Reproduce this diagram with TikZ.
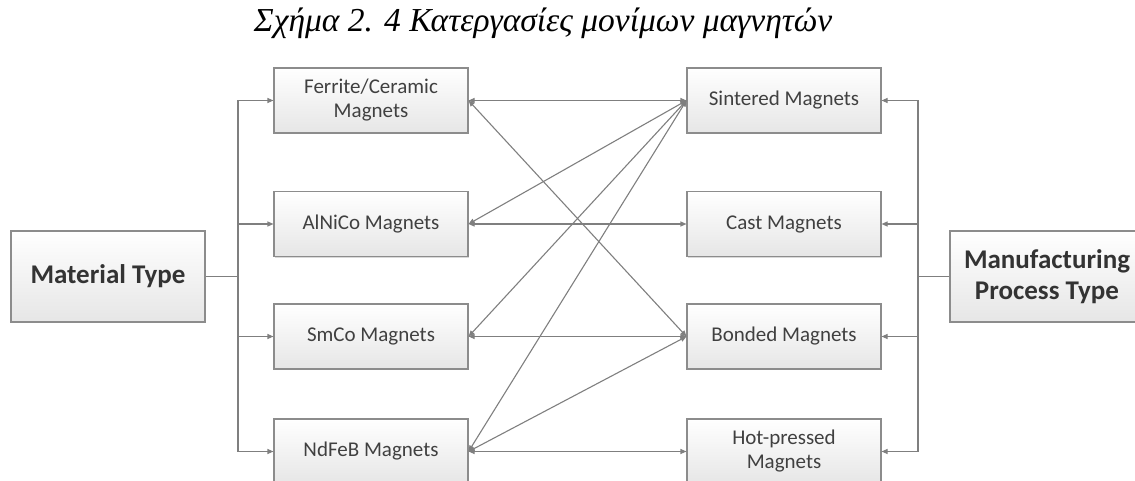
\documentclass[tikz,border=0pt]{standalone}
\usepackage{fontspec}
\setmainfont{Carlito}
\newfontfamily\titlefont{Liberation Serif}
\usetikzlibrary{arrows.meta,shadows}
\definecolor{boxline}{HTML}{8C8C8C}
\definecolor{linecol}{HTML}{7F7F7F}
\definecolor{txtcol}{HTML}{404040}
\definecolor{fillbot}{HTML}{E6E6E6}
\begin{document}
\begin{tikzpicture}[x=1pt,y=-1pt,
  mbox/.style={draw=boxline,line width=1.1pt,top color=white,bottom color=fillbot,
    minimum width=194pt,minimum height=65pt,align=center,text=txtcol,
    font=\fontsize{21}{24}\selectfont,inner sep=0pt,
    drop shadow={shadow xshift=1.2pt,shadow yshift=-1.2pt,fill=black!25,opacity=0.6}},
  bigbox/.style={mbox,minimum height=91pt,text=black!80,font=\bfseries\fontsize{27}{31}\selectfont},
  conn/.style={draw=linecol,line width=1.1pt},
  arr/.style={conn,-{Triangle[length=6pt,width=5pt]}},
  darr/.style={conn,{Triangle[length=6pt,width=5pt]}-{Triangle[length=6pt,width=5pt]}}
]
\useasboundingbox (0,0) rectangle (1135,481);
\clip (0,0) rectangle (1135,481);
\node[font=\titlefont\itshape\fontsize{33.5}{38}\selectfont] (title) at (543,23) {Σχήμα 2. 4 Κατεργασίες μονίμων μαγνητών};

\node[bigbox] (mat) at (108,276.5) {Material Type};
\node[bigbox] (man) at (1047,276.5) {Manufacturing\\Process Type};

\node[mbox] (fer) at (371,100.5) {Ferrite/Ceramic\\Magnets};
\node[mbox] (aln) at (371,224) {AlNiCo Magnets};
\node[mbox] (smc) at (371,336.5) {SmCo Magnets};
\node[mbox] (ndf) at (371,451.5) {NdFeB Magnets};

\node[mbox] (sin) at (784,100.5) {Sintered Magnets};
\node[mbox] (cas) at (784,224) {Cast Magnets};
\node[mbox] (bon) at (784,336.5) {Bonded Magnets};
\node[mbox] (hot) at (784,451.5) {Hot-pressed\\Magnets};

% left bus
\coordinate (lb) at (238,276.5);
\draw[conn] (mat.east) -- (lb);
\draw[arr] (lb) |- (fer.west);
\draw[arr] (lb) |- (aln.west);
\draw[arr] (lb) |- (smc.west);
\draw[arr] (lb) |- (ndf.west);

% right bus
\coordinate (rb) at (918,276.5);
\draw[conn] (man.west) -- (rb);
\draw[arr] (rb) |- (sin.east);
\draw[arr] (rb) |- (cas.east);
\draw[arr] (rb) |- (bon.east);
\draw[arr] (rb) |- (hot.east);

% cross links
\draw[darr] (fer.east) -- (sin.west);
\draw[darr] (fer.east) -- (bon.west);
\draw[darr] (aln.east) -- (sin.west);
\draw[darr] (aln.east) -- (cas.west);
\draw[darr] (smc.east) -- (sin.west);
\draw[darr] (smc.east) -- (bon.west);
\draw[darr] (ndf.east) -- (sin.west);
\draw[darr] (ndf.east) -- (bon.west);
\draw[darr] (ndf.east) -- (hot.west);
\end{tikzpicture}
\end{document}
